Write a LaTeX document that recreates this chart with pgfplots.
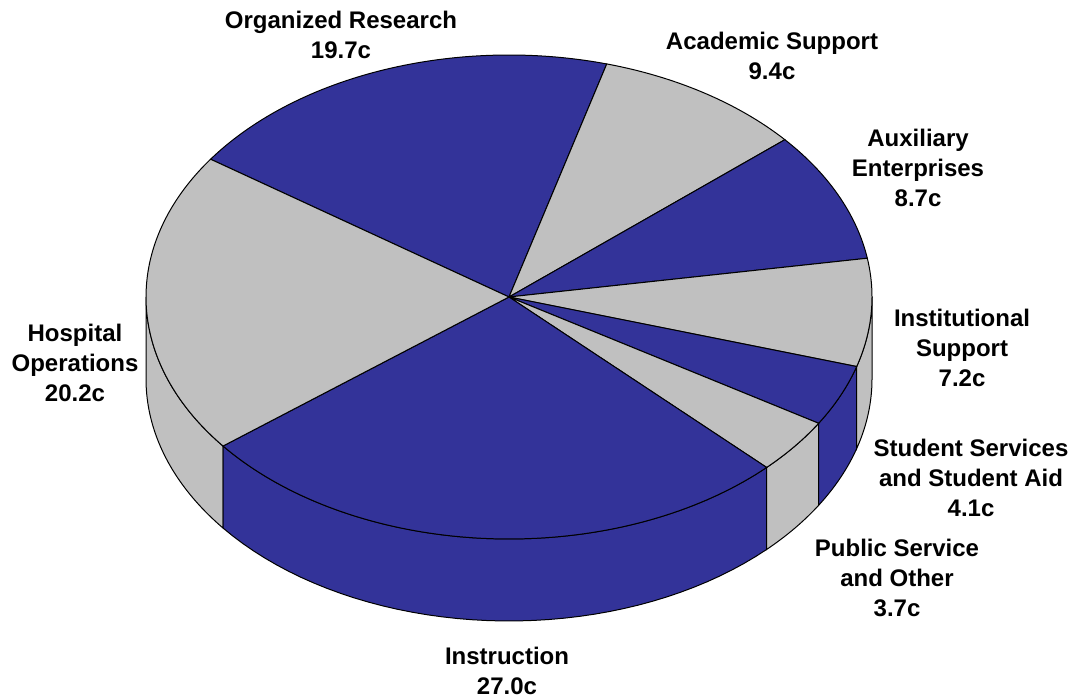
\documentclass[border=0pt]{standalone}
\usepackage{fontspec}
\setmainfont{Liberation Sans}
\usepackage{pgfplots}
\pgfplotsset{compat=1.18}
\definecolor{pieblue}{RGB}{51,51,153}
\definecolor{piegray}{RGB}{192,192,192}
% slice values (cents)
\def\vOrg{19.7}\def\vAcad{9.4}\def\vAux{8.7}\def\vInst{7.2}
\def\vStud{4.1}\def\vPub{3.7}\def\vInstr{27.0}\def\vHosp{20.2}
\pgfmathsetmacro\aZero{145.3}
\pgfmathsetmacro\aOne{\aZero-3.6*\vOrg}
\pgfmathsetmacro\aTwo{\aOne-3.6*\vAcad}
\pgfmathsetmacro\aThree{\aTwo-3.6*\vAux}
\pgfmathsetmacro\aFour{\aThree-3.6*\vInst}
\pgfmathsetmacro\aFive{\aFour-3.6*\vStud}
\pgfmathsetmacro\aSix{\aFive-3.6*\vPub}
\pgfmathsetmacro\aSeven{\aSix-3.6*\vInstr}
\pgfmathsetmacro\aEight{\aSeven-3.6*\vHosp}
\newcommand\piewedge[3]{%
  \addplot[fill=#1, draw=black, line width=0.5pt, domain=#3:#2, samples=80]
    ({509+363*cos(x)},{403+242*sin(x)}) -- (axis cs:509,403) -- cycle;}
\newcommand\sideband[3]{%
  \addplot[fill=#1, draw=black, line width=0.5pt, domain=0:81, samples=82]
    ({509+363*cos(T(x,#2,#3))},{403+242*sin(T(x,#2,#3))-82*(x>40.5)}) -- cycle;}
\begin{document}
\begin{tikzpicture}
\path[use as bounding box] (0,0) rectangle (537.5pt,350pt);
\begin{axis}[
  x=0.5pt, y=0.5pt, xmin=0, xmax=1075, ymin=0, ymax=700,
  anchor=origin, at={(0,0)}, hide axis, clip=false,
  declare function={T(\i,\p,\q)=(\i<40.5) ? \p+(\q-\p)*\i/40 : \q-(\q-\p)*(\i-41)/40;},
  nodes={font=\fontsize{12}{15}\selectfont\bfseries, align=center, inner sep=0pt},
]
% sides (front half only)
\sideband{piegray}{-180}{\aSeven}
\sideband{pieblue}{\aSeven}{\aSix}
\sideband{piegray}{\aSix}{\aFive}
\sideband{pieblue}{\aFive}{\aFour}
\sideband{piegray}{\aFour}{0}
% top face
\piewedge{pieblue}{\aZero}{\aOne}
\piewedge{piegray}{\aOne}{\aTwo}
\piewedge{pieblue}{\aTwo}{\aThree}
\piewedge{piegray}{\aThree}{\aFour}
\piewedge{pieblue}{\aFour}{\aFive}
\piewedge{piegray}{\aFive}{\aSix}
\piewedge{pieblue}{\aSix}{\aSeven}
\piewedge{piegray}{\aSeven}{\aEight}
% labels
\node at (axis cs:341,665) {Organized Research\\19.7c};
\node at (axis cs:772,644) {Academic Support\\9.4c};
\node at (axis cs:918,532) {Auxiliary\\Enterprises\\8.7c};
\node at (axis cs:962,352) {Institutional\\Support\\7.2c};
\node at (axis cs:971,222) {Student Services\\and Student Aid\\4.1c};
\node at (axis cs:897,122) {Public Service\\and Other\\3.7c};
\node at (axis cs:507,29) {Instruction\\27.0c};
\node at (axis cs:75,337) {Hospital\\Operations\\20.2c};
\end{axis}
\end{tikzpicture}
\end{document}
